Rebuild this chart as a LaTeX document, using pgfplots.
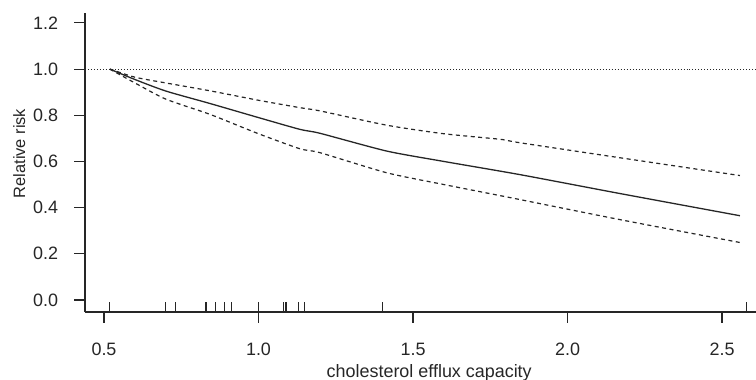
\documentclass[border=0pt]{standalone}
\usepackage{fontspec}
\setmainfont{Liberation Sans}
\usepackage{pgfplots}
\pgfplotsset{compat=1.18}
\newcommand{\tl}{\fontsize{18}{21}\selectfont}
\newcommand{\yl}{\fontsize{16.5}{19}\selectfont}
\begin{document}
\begin{tikzpicture}[font=\tl]
\begin{axis}[
  scale only axis, width=671bp, height=299bp,
  xmin=0.4385, xmax=2.61, ymin=-0.052, ymax=1.243,
  axis lines=left,
  axis line style={-, line width=1.1bp, black!85},
  tick align=outside, major tick length=10.5bp,
  tick style={line width=1.1bp, black!85},
  tick label style={font=\tl, text=black!85},
  xtick={0.5,1,1.5,2,2.5},
  xticklabels={0.5,1.0,1.5,2.0,2.5},
  ytick={0,0.2,0.4,0.6,0.8,1.0,1.2},
  yticklabels={0.0,0.2,0.4,0.6,0.8,1.0,1.2},
  yticklabel style={anchor=east, xshift=-13bp},
  xticklabel style={anchor=center, yshift=-26.5bp},
  xlabel={\tl cholesterol efflux capacity},
  ylabel={\yl Relative risk},
  xlabel style={at={(axis description cs:0.513,-0.202)}, anchor=center, text=black!85},
  ylabel style={at={(axis description cs:-0.098,0.53)}, anchor=center, text=black!85},
  clip=false,
]
\addplot[black!85, line width=1bp, dotted] coordinates {(0.4385,1) (2.61,1)};
\addplot[black!85, line width=1.3bp, smooth, tension=0.4] coordinates {
(0.519,1.0) (0.6,0.955) (0.7,0.905) (0.843,0.851) (1.0,0.79) (1.134,0.739) (1.199,0.722) (1.415,0.645) (1.6,0.60) (1.846,0.543) (2.17,0.461) (2.558,0.365)};
\addplot[black!85, line width=1.2bp, dash pattern=on 4bp off 3.5bp, smooth, tension=0.4] coordinates {
(0.519,1.0) (0.6,0.965) (0.7,0.94) (0.843,0.906) (1.0,0.865) (1.134,0.833) (1.199,0.819) (1.415,0.757) (1.6,0.72) (1.782,0.696) (1.846,0.681) (2.17,0.616) (2.558,0.539)};
\addplot[black!85, line width=1.2bp, dash pattern=on 4bp off 3.5bp, smooth, tension=0.4] coordinates {
(0.519,1.0) (0.6,0.94) (0.7,0.87) (0.843,0.804) (1.0,0.72) (1.134,0.655) (1.199,0.638) (1.415,0.551) (1.6,0.50) (1.782,0.452) (1.846,0.435) (2.17,0.348) (2.558,0.249)};
% rug
\addplot[only marks, mark=|, mark size=5bp, mark options={line width=1.1bp, draw=black!85, yshift=5bp}] coordinates {
(0.519,-0.052) (0.70,-0.052) (0.73,-0.052) (0.83,-0.052) (0.86,-0.052) (0.89,-0.052) (0.914,-0.052) (1.0,-0.052) (1.08,-0.052) (1.089,-0.052) (1.13,-0.052) (1.15,-0.052) (1.40,-0.052) (2.58,-0.052)};
% outward x ticks
\addplot[only marks, mark=|, mark size=5.25bp, mark options={line width=1.1bp, draw=black!85, yshift=-5.25bp}] coordinates {
(0.5,-0.052) (1.0,-0.052) (1.5,-0.052) (2.0,-0.052) (2.5,-0.052)};
\end{axis}
\pgfresetboundingbox
\path (current axis.south west) ++(-85bp,-68bp) coordinate (bbsw);
\path (current axis.north east) ++(0bp,13bp) coordinate (bbne);
\useasboundingbox (bbsw) rectangle (bbne);
\end{tikzpicture}
\end{document}
